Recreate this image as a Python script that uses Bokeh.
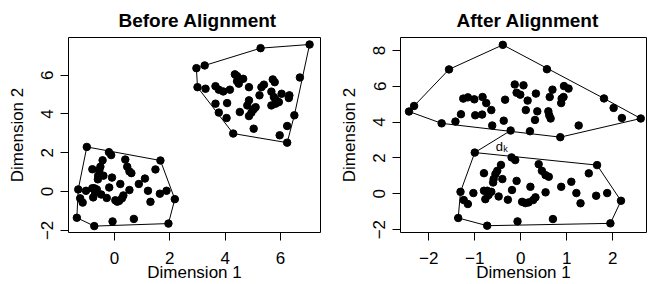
import numpy as np
from bokeh.plotting import figure
from bokeh.layouts import row
from bokeh.models import FixedTicker, Range1d, Label
from bokeh.embed import file_html
from bokeh.resources import INLINE

# ---------------- data ----------------
# cluster 1 (lower) - same in both panels
low_x = [-1.00, -0.20, -0.12, 1.66, 0.39, -0.43, -0.51, -0.55, -0.80, 0.46, 0.54, 0.61, 1.48,
         -0.59, -0.60, -0.40, -0.09, 0.21, -0.19, 1.10, 0.88, 0.54, 1.21, 1.30, 1.64, 1.88,
         2.18, 1.95, 0.70, -0.07, -0.73, -1.36, -1.31, -1.24, -1.15, -1.03, -0.80, -0.73,
         -0.64, -0.70, -0.77, -0.48, -0.28, 0.03, 0.10, 0.17, 0.27, 0.32]
low_y = [2.30, 2.03, 1.88, 1.60, 1.65, 1.61, 1.28, 1.10, 1.15, 1.28, 1.04, 0.95, 1.14,
         0.82, 0.63, 0.82, 0.72, 0.39, 0.21, 0.67, 0.39, 0.08, 0.04, -0.53, -0.11, 0.04,
         -0.39, -1.65, -1.41, -1.54, -1.78, -1.35, 0.11, -0.35, -0.57, 0.04, 0.17, 0.17,
         0.11, -0.07, -0.30, -0.15, -0.33, -0.45, -0.52, -0.48, -0.35, -0.20]

# cluster 2 before alignment
up_before_x = [7.05, 5.28, 3.26, 2.96, 3.00, 3.29, 6.70, 4.35, 4.43, 4.65, 4.43, 5.72, 5.79,
               3.65, 3.77, 3.93, 4.17, 4.49, 4.86, 5.31, 5.40, 5.67, 6.04, 6.32, 6.30, 5.24,
               5.76, 5.82, 3.65, 4.07, 4.86, 4.80, 5.67, 5.82, 5.94, 5.10, 3.77, 4.53, 5.03,
               4.95, 4.86, 4.05, 6.50, 6.24, 5.03, 4.29, 5.97, 6.24]
up_before_y = [7.58, 7.39, 6.50, 6.36, 5.38, 5.30, 5.88, 6.04, 5.95, 5.81, 5.69, 5.78, 5.64,
               5.43, 5.25, 5.16, 5.25, 5.56, 5.38, 5.38, 5.51, 5.15, 5.04, 4.96, 4.82, 4.96,
               4.87, 4.75, 4.53, 4.56, 4.70, 4.44, 4.44, 4.53, 4.61, 4.35, 4.07, 4.10, 4.24,
               4.07, 3.89, 3.79, 3.93, 3.38, 3.24, 2.99, 2.90, 2.52]

# cluster 2 after alignment
up_after_x = [-0.39, -1.56, -2.32, -2.43, 0.57, 1.81, 2.02, 2.61, 2.20, 1.26, 0.86, 0.20,
              -0.22, -0.62, -0.37, -1.72, -1.42, -1.30, -0.99, -0.84, -0.64, -0.75, -1.25,
              -1.15, -1.01, -0.83, -0.34, -0.13, 0.06, -0.09, -0.01, 0.15, 0.33, 0.11, 0.36,
              0.31, 0.60, 0.62, 0.65, 0.63, 0.69, 0.89, 0.88, 0.93, 0.94, 1.04]
up_after_y = [8.31, 6.94, 4.90, 4.59, 6.95, 5.32, 4.79, 4.20, 4.23, 3.81, 3.16, 3.49,
              3.53, 3.81, 4.08, 3.93, 4.03, 4.44, 4.38, 4.42, 4.67, 5.06, 5.31,
              5.38, 5.27, 5.40, 5.25, 6.10, 6.05, 5.64, 5.53, 5.20, 5.59, 4.67, 4.60,
              4.12, 4.60, 4.38, 4.20, 5.40, 5.81, 5.31, 5.06, 5.40, 6.01, 5.87]

before_xlim = (-1.662, 7.445)
before_ylim = (-2.11, 7.94)
after_xlim = (-2.615, 2.735)
after_ylim = (-2.16, 8.72)
before_xticks = [0, 2, 4, 6]
before_yticks = [-2, 0, 2, 4, 6]
after_xticks = [-2, -1, 0, 1, 2]
after_yticks = [-2, 0, 2, 4, 6, 8]
x_title = "Dimension 1"
y_title = "Dimension 2"

FONT = "Liberation Sans"


def convex_hull(xs, ys):
    pts = sorted(set(zip(xs, ys)))

    def cross(o, a, b):
        return (a[0] - o[0]) * (b[1] - o[1]) - (a[1] - o[1]) * (b[0] - o[0])

    lower = []
    for pt in pts:
        while len(lower) >= 2 and cross(lower[-2], lower[-1], pt) <= 0:
            lower.pop()
        lower.append(pt)
    upper = []
    for pt in reversed(pts):
        while len(upper) >= 2 and cross(upper[-2], upper[-1], pt) <= 0:
            upper.pop()
        upper.append(pt)
    h = lower[:-1] + upper[:-1]
    h.append(h[0])
    return [float(q[0]) for q in h], [float(q[1]) for q in h]


def fmt(t):
    return str(t).replace("-", "\u2212")


def make_fig(title, xlim, ylim, xticks, yticks, left, right, title_off):
    p = figure(width=324, height=284, x_range=Range1d(*xlim), y_range=Range1d(*ylim),
               output_backend="svg", toolbar_location=None,
               min_border_left=left, min_border_right=right,
               min_border_top=36, min_border_bottom=52, title=title)
    p.title.text_font = FONT
    p.title.text_font_size = "19px"
    p.title.text_font_style = "bold"
    p.title.text_color = "black"
    p.title.align = "left"
    p.title.offset = title_off
    p.title.standoff = 14
    p.xgrid.visible = False
    p.ygrid.visible = False
    p.outline_line_color = "black"
    p.outline_line_width = 1
    p.outline_line_alpha = 1
    for ax, ticks in ((p.xaxis[0], xticks), (p.yaxis[0], yticks)):
        ax.ticker = FixedTicker(ticks=ticks)
        ax.major_label_overrides = {t: fmt(t) for t in ticks}
        ax.axis_line_color = None
        ax.major_tick_out = 8
        ax.major_tick_in = 0
        ax.major_tick_line_color = "black"
        ax.minor_tick_line_color = None
        ax.major_label_text_font = FONT
        ax.major_label_text_font_size = "17px"
        ax.major_label_text_color = "black"
        ax.axis_label_text_font = FONT
        ax.axis_label_text_font_size = "17px"
        ax.axis_label_text_font_style = "normal"
        ax.axis_label_text_color = "black"
    p.xaxis.axis_label = x_title
    p.yaxis.axis_label = y_title
    p.xaxis.major_label_standoff = 11
    p.xaxis.axis_label_standoff = -4
    p.yaxis.major_label_standoff = 7
    p.yaxis.axis_label_standoff = 12
    p.yaxis.major_label_orientation = "vertical"
    return p


def draw_cluster(p, xs, ys):
    hx, hy = convex_hull(xs, ys)
    p.line(hx, hy, line_color="black", line_width=1)
    p.scatter(xs, ys, size=7.5, fill_color="black", line_color="black")


p1 = make_fig("Before Alignment", before_xlim, before_ylim, before_xticks, before_yticks, 68, 4, 50)
draw_cluster(p1, low_x, low_y)
draw_cluster(p1, up_before_x, up_before_y)

p2 = make_fig("After Alignment", after_xlim, after_ylim, after_xticks, after_yticks, 76, 2, 56)
draw_cluster(p2, low_x, low_y)
draw_cluster(p2, up_after_x, up_after_y)

# d_k : closest pair between the two aligned clusters
ua = np.column_stack([up_after_x, up_after_y])
lo = np.column_stack([low_x, low_y])
d = np.linalg.norm(ua[:, None, :] - lo[None, :, :], axis=2)
i, j = np.unravel_index(int(np.argmin(d)), d.shape)
x0, y0 = float(ua[i, 0]), float(ua[i, 1])
x1, y1 = float(lo[j, 0]), float(lo[j, 1])
p2.line([x0, x1], [y0, y1], line_color="black", line_width=1)
mx = (x0 + x1) / 2
my = (y0 + y1) / 2
p2.add_layout(Label(x=mx, y=my, x_units="data", y_units="data", text="d",
                    x_offset=3, y_offset=-5, text_align="left", text_baseline="alphabetic",
                    text_font=FONT, text_font_size="13px", text_color="black"))
p2.add_layout(Label(x=mx, y=my, x_units="data", y_units="data", text="k",
                    x_offset=10.5, y_offset=-7, text_align="left", text_baseline="alphabetic",
                    text_font=FONT, text_font_size="9px", text_color="black"))

layout = row(p1, p2)
open("out.html", "w").write(file_html(layout, INLINE))
